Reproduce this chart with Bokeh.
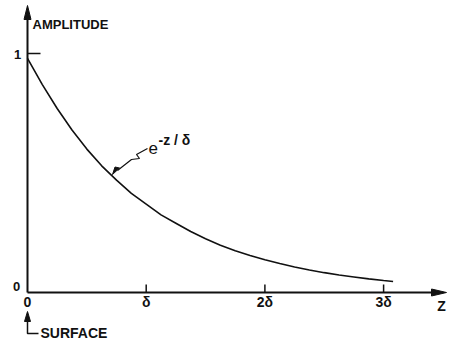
from bokeh.plotting import figure
from bokeh.models import Range1d
from bokeh.core.properties import value
from bokeh.embed import file_html
from bokeh.resources import INLINE

# ---- data ----
z_vals = [0.0, 0.125, 0.25, 0.375, 0.5, 0.625, 0.75, 0.875, 1.0, 1.125, 1.25, 1.375,
          1.5, 1.625, 1.75, 1.875, 2.0, 2.125, 2.25, 2.375, 2.5, 2.625, 2.75, 2.875,
          3.0, 3.08]
amplitude = [0.98, 0.87, 0.77, 0.68, 0.60, 0.53, 0.47, 0.415, 0.37, 0.325, 0.29, 0.255,
             0.225, 0.198, 0.175, 0.155, 0.137, 0.121, 0.107, 0.094, 0.083, 0.073,
             0.065, 0.057, 0.050, 0.046]
x_ticks = [0, 1, 2, 3]
x_tick_labels = ["0", "δ", "2δ", "3δ"]
y_ticks = [0, 1]
y_tick_labels = ["0", "1"]

# ---- layout helpers (pixel -> data, screenshot coordinates) ----
X0, SX = 27.0, 118.7   # screen x of z=0, px per delta
Y0, SY = 292.0, 239.0  # screen y of amplitude 0, px per unit
W, H = 453, 343
OFF = 0

def dx(px):
    return (px - X0) / SX

def dy(py):
    return (Y0 - py) / SY

FONT = value("Liberation Sans")
INK = "#111111"

p = figure(width=W, height=H, output_backend="svg", toolbar_location=None,
           x_axis_location=None, y_axis_location=None, min_border=0,
           x_range=Range1d(dx(OFF), dx(OFF + W)), y_range=Range1d(dy(OFF + H), dy(OFF)))
p.grid.visible = False
p.outline_line_color = None
p.background_fill_color = "white"
p.border_fill_color = "white"

# axes
p.line([0, 0], [0, dy(14)], line_color=INK, line_width=2)
p.line([0, dx(434)], [0, 0], line_color=INK, line_width=2)
# arrowheads
p.patch([0, dx(X0 - 3.5), dx(X0 + 3.5)], [dy(5), dy(19), dy(19)], color=INK)
p.patch([dx(446), dx(431), dx(431)], [0, dy(Y0 - 3.5), dy(Y0 + 3.5)], color=INK)

# ticks
p.segment(x0=x_ticks[1:], y0=[0] * 3, x1=x_ticks[1:], y1=[dy(Y0 - 8)] * 3,
          line_color=INK, line_width=1.5)
p.segment(x0=[0], y0=[y_ticks[1]], x1=[dx(40)], y1=[y_ticks[1]],
          line_color=INK, line_width=1.5)

# tick labels
p.text(x=x_ticks, y=[dy(301)] * 4, text=x_tick_labels, text_font=FONT,
       text_font_style="bold", text_font_size="14px", text_align="center",
       text_baseline="middle", text_color=INK)
p.text(x=[dx(16), dx(17)], y=[dy(286), dy(54)], text=y_tick_labels, text_font=FONT,
       text_font_style="bold", text_font_size="13px", text_align="center",
       text_baseline="middle", text_color=INK)

# curve
p.line(z_vals, amplitude, line_color=INK, line_width=1.6)

# axis titles
p.text(x=[dx(32)], y=[dy(24)], text=["AMPLITUDE"], text_font=FONT,
       text_font_style="bold", text_font_size="13px", text_align="left",
       text_baseline="middle", text_color=INK)
p.text(x=[dx(441)], y=[dy(305)], text=["Z"], text_font=FONT,
       text_font_style="bold", text_font_size="14px", text_align="center",
       text_baseline="middle", text_color=INK)

# SURFACE marker
p.line([0, 0, dx(38)], [dy(318), dy(333), dy(333)], line_color=INK, line_width=1.5)
p.patch([0, dx(X0 - 3), dx(X0 + 3)], [dy(311), dy(321), dy(321)], color=INK)
p.text(x=[dx(40)], y=[dy(332)], text=["SURFACE"], text_font=FONT,
       text_font_style="bold", text_font_size="14px", text_align="left",
       text_baseline="middle", text_color=INK)

# formula label with zig-zag leader
p.line([dx(147), dx(136), dx(139), dx(131), dx(117)],
       [dy(148), dy(154), dy(158), dy(159), dy(170)], line_color=INK, line_width=1.2)
p.patch([dx(112), dx(119), dx(114.5)], [dy(174), dy(167.5), dy(166.5)], color=INK)
p.text(x=[dx(148)], y=[dy(147)], text=["e"], text_font=FONT,
       text_font_size="17px", text_align="left", text_baseline="middle", text_color=INK)
p.text(x=[dx(158)], y=[dy(139)], text=["-z / δ"], text_font=FONT,
       text_font_style="bold", text_font_size="14px", text_align="left",
       text_baseline="middle", text_color=INK)

open("out.html", "w").write(file_html(p, INLINE))
